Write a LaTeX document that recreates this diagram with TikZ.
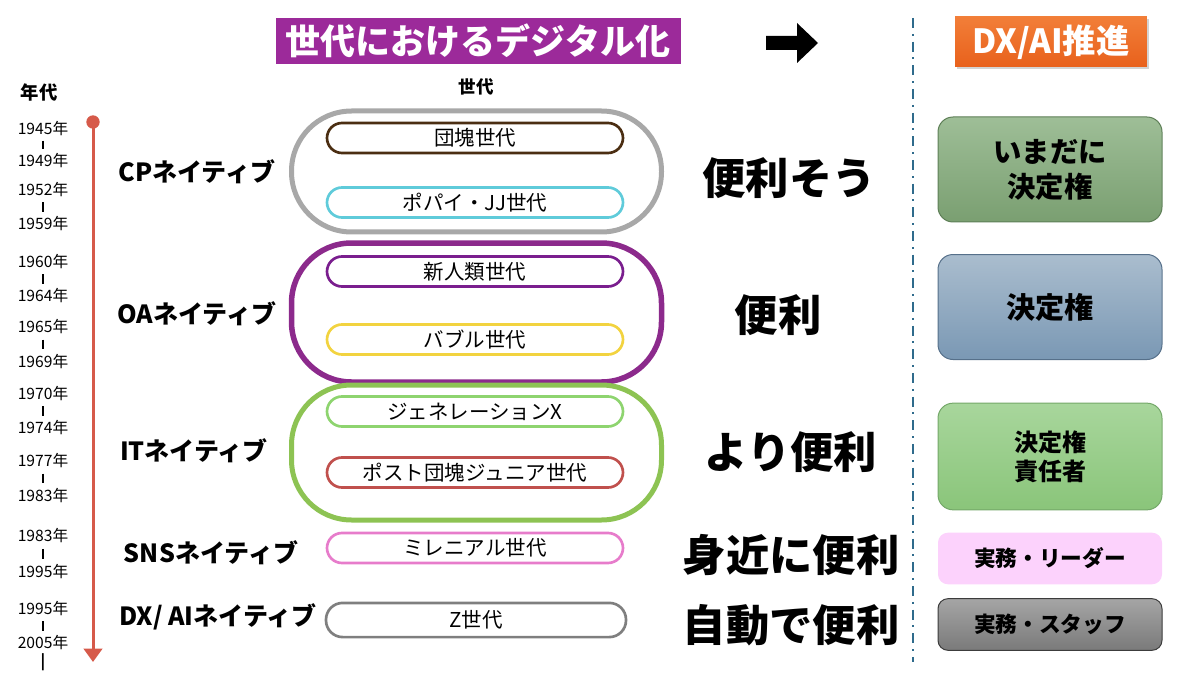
\documentclass[tikz,border=0pt]{standalone}
\usepackage{fontspec}
\setmainfont{Noto Sans CJK JP}
\usetikzlibrary{arrows.meta,shapes.arrows,shadows,calc}
\definecolor{titlepurple}{HTML}{9C2A9A}
\definecolor{dxorange}{HTML}{E8611C}
\definecolor{dxorangetop}{HTML}{F27E38}
\definecolor{capgray}{HTML}{A8A8A8}
\definecolor{cappurple}{HTML}{8C2A8C}
\definecolor{capgreen}{HTML}{8DC353}
\definecolor{cbrown}{HTML}{4B2E12}
\definecolor{ccyan}{HTML}{5FCBDA}
\definecolor{cpurple}{HTML}{7A1E8E}
\definecolor{cyellow}{HTML}{F2D33F}
\definecolor{clgreen}{HTML}{8ED46F}
\definecolor{cred}{HTML}{C0504D}
\definecolor{cpink}{HTML}{E77CCB}
\definecolor{cgray}{HTML}{7F7F7F}
\definecolor{tlred}{HTML}{D65A4A}
\definecolor{dashblue}{HTML}{2F6B8C}
\definecolor{b1line}{RGB}{94,127,87}
\definecolor{b1top}{RGB}{158,190,151}
\definecolor{b1bot}{RGB}{122,159,113}
\definecolor{b2line}{RGB}{86,112,138}
\definecolor{b2top}{RGB}{170,189,206}
\definecolor{b2bot}{RGB}{122,152,180}
\definecolor{b3line}{RGB}{116,168,105}
\definecolor{b3top}{RGB}{168,214,156}
\definecolor{b3bot}{RGB}{138,197,122}
\definecolor{b4fill}{RGB}{252,210,252}
\definecolor{b5line}{RGB}{60,60,60}
\definecolor{b5top}{RGB}{165,165,165}
\definecolor{b5bot}{RGB}{122,122,122}
\tikzset{
  yearlbl/.style={font=\fontsize{9.4}{10}\selectfont, inner sep=0pt},
  ticklbl/.style={font=\fontsize{9}{10}\selectfont\bfseries, inner sep=0pt},
  natlbl/.style={font=\fontsize{15}{16}\selectfont\bfseries, inner sep=0pt},
  bigcap/.style={draw=#1, line width=3pt, minimum width=222pt, rounded corners=36pt, inner sep=0pt},
  smallcap/.style={draw=#1, line width=1.6pt, minimum width=177.6pt, minimum height=18pt, rounded corners=9pt, inner sep=0pt, font=\fontsize{12.3}{14}\selectfont},
  bigtxt/.style={font=\fontsize{26}{28}\selectfont\bfseries, inner sep=0pt},
  rbox/.style={rounded corners=9pt, minimum width=134.4pt, align=center, inner sep=0pt, font=\bfseries, line width=0.6pt},
}
\begin{document}
\begin{tikzpicture}[x=0.6pt, y=-0.6pt]
\useasboundingbox (0,0) rectangle (1200,675);
% header
\node[fill=titlepurple, text=white, minimum width=243pt, minimum height=27.6pt, inner sep=0pt,
      font=\fontsize{21}{22}\selectfont\bfseries] (title) at (478,41) {世代におけるデジタル化};
\node[font=\fontsize{10.5}{12}\selectfont\bfseries, inner sep=0pt] (gen) at (476,87) {世代};
\coordinate (harrow) at (766,43);
\fill[black] (harrow) ++(0,-7) -- ++(31,0) -- ++(0,-13) -- ++(21,20) -- ++(-21,20) -- ++(0,-13) -- ++(-31,0) -- cycle;
\node[top color=dxorangetop, bottom color=dxorange, text=white, minimum width=115pt, minimum height=30pt,
      inner sep=0pt, font=\fontsize{20}{22}\selectfont\bfseries, drop shadow={shadow xshift=1pt, shadow yshift=-1.5pt, opacity=0.35}] (dx) at (1051,42) {DX/AI推進};
\coordinate (dtop) at (913,18);
\coordinate (dbot) at (913,662);
\draw[dashblue, line width=1.3pt, dash pattern=on 6pt off 3.5pt on 1.2pt off 3.5pt] (dtop) -- (dbot);
% timeline
\node[font=\fontsize{11}{12}\selectfont\bfseries, inner sep=0pt] (nendai) at (39,93) {年代};
\node[circle, fill=tlred, minimum size=8pt, inner sep=0pt] (tlstart) at (93,122) {};
\coordinate (tlend) at (93,662);
\draw[tlred, line width=1.8pt, -{Triangle[width=11pt,length=8pt]}] (tlstart.center) -- (tlend);
\foreach \a/\b/\ya/\yb [count=\i] in {1945/1949/129/161, 1952/1959/190/224, 1960/1964/262/296, 1965/1969/327/362,
  1970/1974/394/428, 1977/1983/461/496, 1983/1995/536/572, 1995/2005/609/643} {
  \node[yearlbl] (ya\i) at (43,\ya) {\a 年};
  \node[yearlbl] (yb\i) at (43,\yb) {\b 年};
  \draw[line width=1pt] ($(ya\i)!0.36!(yb\i)$) -- ($(ya\i)!0.64!(yb\i)$);
}
\node[ticklbl] (lasttick) at (43,662) {|};
% native labels
\node[natlbl] (cp) at (197,172) {CPネイティブ};
\node[natlbl] (oa) at (197,314) {OAネイティブ};
\node[natlbl] (it) at (194,451) {ITネイティブ};
\node[natlbl] (sns) at (211,553) {SNSネイティブ};
\node[natlbl] (dxn) at (218,617) {DX/ AIネイティブ};
% big capsules
\node[bigcap=capgray, minimum height=72.6pt] (capcp) at (476.5,171.5) {};
\node[bigcap=cappurple, minimum height=83.4pt, line width=3.3pt] (capoa) at (476.5,312.5) {};
\node[bigcap=capgreen, minimum height=81pt] (capit) at (476.5,452.5) {};
% small capsules
\node[smallcap=cbrown] (dankai) at (475,138) {団塊世代};
\node[smallcap=ccyan] (popeye) at (475,202.5) {ポパイ・JJ世代};
\node[smallcap=cpurple] (shinjin) at (475,271.5) {新人類世代};
\node[smallcap=cyellow] (bubble) at (475,339.5) {バブル世代};
\node[smallcap=clgreen] (genx) at (475,411.5) {ジェネレーションX};
\node[smallcap=cred] (post) at (475,472.5) {ポスト団塊ジュニア世代};
\node[smallcap=cpink] (mill) at (475,548) {ミレニアル世代};
\node[smallcap=cgray, minimum width=180pt, minimum height=20.5pt, rounded corners=10pt] (zgen) at (476,620) {Z世代};
% big texts
\node[bigtxt] (t1) at (789,178) {便利そう};
\node[bigtxt] (t2) at (778,315) {便利};
\node[bigtxt] (t3) at (791,452) {より便利};
\node[bigtxt] (t4) at (791,555) {身近に便利};
\node[bigtxt] (t5) at (791,625) {自動で便利};
% right boxes
\node[rbox, draw=b1line, top color=b1top, bottom color=b1bot,
      minimum height=63pt, font=\fontsize{17}{21}\selectfont\bfseries] (b1) at (1050,169.5) {いまだに\\決定権};
\node[rbox, draw=b2line, top color=b2top, bottom color=b2bot,
      minimum height=63pt, font=\fontsize{17.5}{21}\selectfont\bfseries] (b2) at (1050,307) {決定権};
\node[rbox, draw=b3line, top color=b3top, bottom color=b3bot,
      minimum height=64pt, font=\fontsize{14.4}{17.5}\selectfont\bfseries] (b3) at (1050,456.5) {決定権\\責任者};
\node[rbox, fill=b4fill, minimum height=31pt, rounded corners=6pt,
      font=\fontsize{13}{15}\selectfont\bfseries] (b4) at (1050,558.5) {実務・リーダー};
\node[rbox, draw=b5line, top color=b5top, bottom color=b5bot,
      minimum height=31pt, rounded corners=6pt, font=\fontsize{13}{15}\selectfont\bfseries] (b5) at (1050,624.5) {実務・スタッフ};
\end{tikzpicture}
\end{document}
